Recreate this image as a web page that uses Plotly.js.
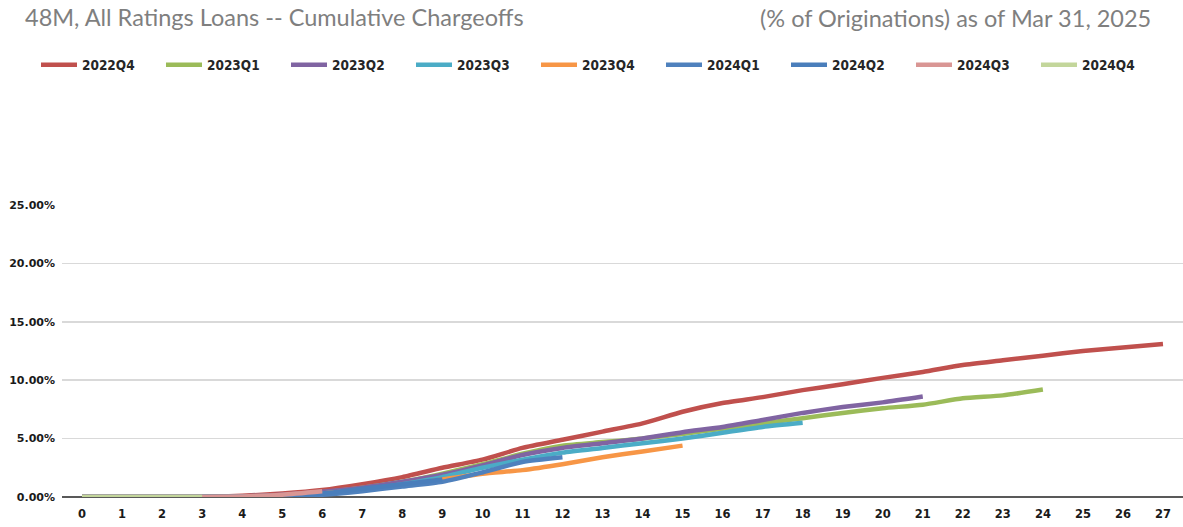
<!DOCTYPE html>
<html>
<head>
<meta charset="utf-8">
<script src="https://cdn.plot.ly/plotly-3.0.1.min.js"></script>
<style>html,body{margin:0;padding:0;background:#fff;}#chart{width:1183px;height:527px;}</style>
</head>
<body>
<div id="chart"></div>
<script>
// Months since origination (category axis)
const months = [0,1,2,3,4,5,6,7,8,9,10,11,12,13,14,15,16,17,18,19,20,21,22,23,24,25,26,27];

// Vintage names
const vintages = ["2022Q4","2023Q1","2023Q2","2023Q3","2023Q4","2024Q1","2024Q2","2024Q3","2024Q4"];

// Cumulative chargeoffs (% of originations)
const v2022Q4 = [0.00,0.00,0.00,0.00,0.10,0.30,0.60,1.10,1.70,2.50,3.20,4.20,4.90,5.60,6.30,7.30,8.05,8.55,9.15,9.65,10.20,10.70,11.30,11.70,12.10,12.50,12.80,13.10];
const v2023Q1 = [0.00,0.00,0.00,0.00,0.05,0.15,0.40,0.80,1.30,2.00,2.80,3.70,4.40,4.70,5.00,5.40,5.85,6.30,6.75,7.20,7.60,7.90,8.45,8.70,9.20];
const v2023Q2 = [0.00,0.00,0.00,0.00,0.05,0.20,0.45,0.80,1.30,1.90,2.70,3.60,4.20,4.60,5.00,5.55,6.00,6.60,7.20,7.70,8.10,8.60];
const v2023Q3 = [0.00,0.00,0.00,0.00,0.02,0.10,0.30,0.60,1.10,1.70,2.50,3.20,3.80,4.20,4.60,5.00,5.50,6.00,6.35];
const v2023Q4 = [0.00,0.00,0.00,0.00,0.02,0.10,0.30,0.60,1.00,1.50,2.00,2.30,2.80,3.40,3.90,4.40];
const v2024Q1 = [0.00,0.00,0.00,0.00,0.02,0.08,0.20,0.50,0.90,1.30,2.10,3.00,3.40];
const v2024Q2 = [0.00,0.00,0.00,0.00,0.02,0.10,0.30,0.70,1.10,1.50];
const v2024Q3 = [0.00,0.00,0.00,0.00,0.05,0.20,0.50];
const v2024Q4 = [0.00,0.00,0.00,0.00];

// Tick labels
const yTickVals = [0,0.05,0.10,0.15,0.20,0.25];

const seriesValues = [v2022Q4,v2023Q1,v2023Q2,v2023Q3,v2023Q4,v2024Q1,v2024Q2,v2024Q3,v2024Q4];
const colors = ["#C0504D","#9BBB59","#8064A2","#4BACC6","#F79646","#4F81BD","#4A7EBB","#D99694","#C3D69B"];

const traces = vintages.map((name,i) => ({
  type: "scatter",
  mode: "lines",
  name: name,
  x: months.slice(0, seriesValues[i].length),
  y: seriesValues[i].map(v => v/100),
  line: {color: colors[i], width: 4.5, shape: "spline", smoothing: 0.6},
  hoverinfo: "skip"
}));

const W = 1183, H = 527;
const mL = 62, mR = 0, mT = 205, mB = 30;
const plotW = W - mL - mR, plotH = H - mT - mB;

const layout = {
  width: W, height: H,
  margin: {l: mL, r: mR, t: mT, b: mB, pad: 0},
  paper_bgcolor: "#ffffff",
  plot_bgcolor: "#ffffff",
  showlegend: true,
  title: {
    text: "48M, All Ratings Loans -- Cumulative Chargeoffs",
    xref: "container", yref: "container",
    x: 25/W, xanchor: "left",
    y: 1 - 18/H, yanchor: "middle",
    font: {family: "Lato, 'Open Sans', sans-serif", size: 23.5, color: "#7F7F7F"}
  },
  annotations: [{
    text: "(% of Originations) as of Mar 31, 2025",
    xref: "paper", yref: "paper",
    x: (1153 - mL)/plotW, xanchor: "right",
    y: (H - mB - 18)/plotH, yanchor: "middle",
    showarrow: false,
    font: {family: "Lato, 'Open Sans', sans-serif", size: 23.5, color: "#7F7F7F"}
  }],
  legend: {
    orientation: "h",
    xref: "container", yref: "container",
    x: 36/W, xanchor: "left",
    y: 1 - 65/H, yanchor: "middle",
    entrywidth: 74, entrywidthmode: "pixels",
    itemwidth: 36,
    font: {family: "'DejaVu Sans Condensed', 'DejaVu Sans', sans-serif", size: 13.5, color: "#262626", weight: "bold"},
    bgcolor: "rgba(0,0,0,0)"
  },
  xaxis: {
    type: "linear",
    range: [-0.5, 27.5],
    tickmode: "array",
    tickvals: months,
    ticktext: months.map(String),
    showgrid: false,
    zeroline: false,
    showline: false,
    ticks: "",
    ticklen: 0,
    ticklabelstandoff: 8,
    tickfont: {family: "'DejaVu Sans', sans-serif", size: 11.5, color: "#1a1a1a", weight: "bold"},
    fixedrange: true
  },
  yaxis: {
    range: [0, 0.25],
    tickmode: "array",
    tickvals: yTickVals,
    tickformat: ".2%",
    showgrid: true,
    gridcolor: "#D9D9D9",
    gridwidth: 1.5,
    zeroline: true,
    zerolinecolor: "#595959",
    zerolinewidth: 2,
    showline: false,
    ticks: "",
    ticklen: 0,
    ticklabelstandoff: 6,
    tickfont: {family: "'DejaVu Sans', sans-serif", size: 11, color: "#1a1a1a", weight: "bold"},
    fixedrange: true
  }
};

Plotly.newPlot("chart", traces, layout, {displayModeBar: false, staticPlot: true});
</script>
</body>
</html>
